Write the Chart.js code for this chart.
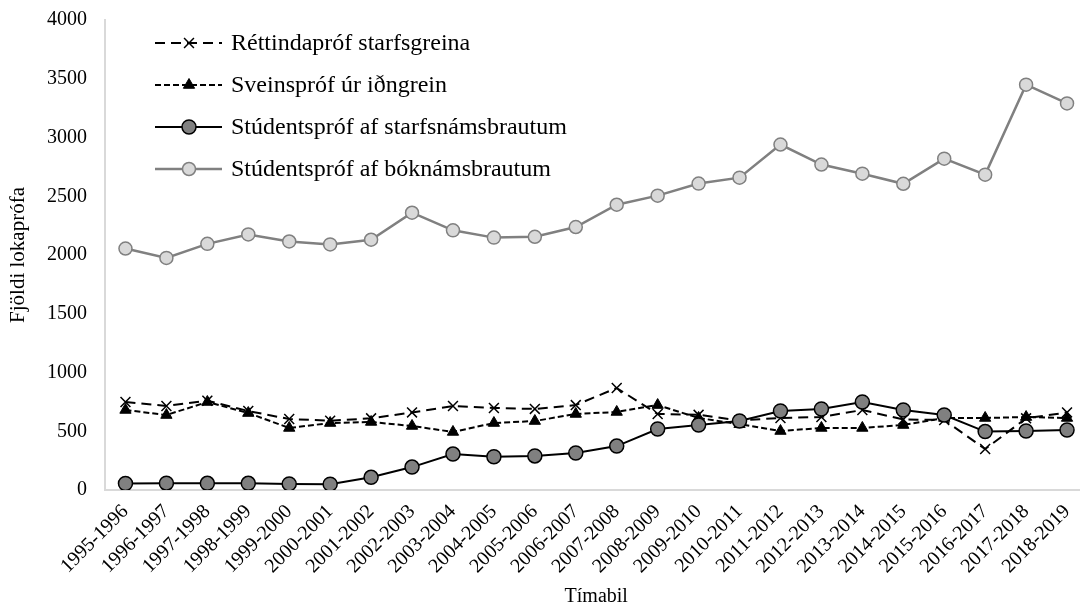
<!DOCTYPE html>
<html>
<head>
<meta charset="utf-8">
<script src="https://cdn.jsdelivr.net/npm/chart.js@4/dist/chart.umd.min.js"></script>
<style>
  html, body { margin: 0; padding: 0; background: #fff; overflow: hidden; }
  #wrap { width: 1096px; height: 609px; position: relative; }
</style>
</head>
<body>
<div id="wrap"><canvas id="chart"></canvas></div>
<script>
// === data ===
const periods = ['1995-1996', '1996-1997', '1997-1998', '1998-1999', '1999-2000', '2000-2001',
  '2001-2002', '2002-2003', '2003-2004', '2004-2005', '2005-2006', '2006-2007', '2007-2008',
  '2008-2009', '2009-2010', '2010-2011', '2011-2012', '2012-2013', '2013-2014', '2014-2015',
  '2015-2016', '2016-2017', '2017-2018', '2018-2019'];

const rettindaprof = [749, 715, 760, 672, 604, 590, 610, 660, 715, 698, 690, 723, 868, 647, 640, 592, 613, 621, 681, 600, 596, 349, 610, 660];
const sveinsprof = [681, 638, 749, 655, 528, 570, 579, 545, 494, 570, 587, 647, 664, 723, 613, 560, 502, 528, 528, 553, 613, 613, 621, 613];
const studStarfs = [55, 58, 57, 57, 52, 50, 108, 195, 306, 283, 290, 315, 374, 519, 553, 587, 672, 689, 749, 681, 638, 497, 502, 511];
const studBokn = [2055, 1975, 2095, 2175, 2115, 2090, 2130, 2360, 2210, 2148, 2155, 2238, 2428, 2505, 2608, 2658, 2940, 2770, 2692, 2606, 2820, 2684, 3450, 3290];

const yTicks = [0, 500, 1000, 1500, 2000, 2500, 3000, 3500, 4000];

const FONT = "'Liberation Serif', 'Times New Roman', serif";

// legend drawn inside the plot, top left
const insideLegend = {
  id: 'insideLegend',
  afterDraw(chart) {
    const c = chart.ctx;
    const x0 = 155, x1 = 222, mx = 189;
    const rows = [43, 85, 127, 169];
    c.save();
    chart.data.datasets.forEach((ds, i) => {
      const y = rows[i];
      c.beginPath();
      c.setLineDash(ds.borderDash || []);
      c.lineWidth = ds.borderWidth;
      c.strokeStyle = ds.borderColor;
      c.moveTo(x0, y);
      c.lineTo(x1, y);
      c.stroke();
      c.setLineDash([]);
      c.fillStyle = ds.pointBackgroundColor;
      c.strokeStyle = ds.pointBorderColor;
      c.lineWidth = ds.pointBorderWidth;
      Chart.helpers.drawPoint(c, {
        pointStyle: ds.pointStyle,
        radius: ds.pointRadius,
        rotation: 0,
        borderWidth: ds.pointBorderWidth
      }, mx, y);
      c.fillStyle = '#000';
      c.font = '24px ' + FONT;
      c.textBaseline = 'middle';
      c.textAlign = 'left';
      c.fillText(ds.label, 231, y + 1);
    });
    c.restore();
  }
};

const ctx = document.getElementById('chart').getContext('2d');

new Chart(ctx, {
  type: 'line',
  data: {
    labels: periods,
    datasets: [
      {
        label: 'Réttindapróf starfsgreina',
        data: rettindaprof,
        borderColor: '#000',
        borderWidth: 2,
        borderDash: [10, 6],
        pointStyle: 'crossRot',
        pointRadius: 7,
        pointBorderWidth: 1.5,
        pointBackgroundColor: '#000',
        pointBorderColor: '#000',
        order: 3
      },
      {
        label: 'Sveinspróf úr iðngrein',
        data: sveinsprof,
        borderColor: '#000',
        borderWidth: 2,
        borderDash: [6, 3],
        pointStyle: 'triangle',
        pointRadius: 6.5,
        pointBorderWidth: 1,
        pointBackgroundColor: '#000',
        pointBorderColor: '#000',
        order: 2
      },
      {
        label: 'Stúdentspróf af starfsnámsbrautum',
        data: studStarfs,
        borderColor: '#000',
        borderWidth: 2,
        pointStyle: 'circle',
        pointRadius: 7,
        pointBorderWidth: 1.5,
        pointBackgroundColor: '#808080',
        pointBorderColor: '#000',
        order: 0
      },
      {
        label: 'Stúdentspróf af bóknámsbrautum',
        data: studBokn,
        borderColor: '#808080',
        borderWidth: 2.5,
        pointStyle: 'circle',
        pointRadius: 6.5,
        pointBorderWidth: 1.5,
        pointBackgroundColor: '#d9d9d9',
        pointBorderColor: '#808080',
        order: 1
      }
    ]
  },
  options: {
    responsive: true,
    maintainAspectRatio: false,
    animation: false,
    layout: { padding: { left: 0, right: 3, top: 20, bottom: 0 } },
    plugins: {
      legend: { display: false },
      tooltip: { enabled: false }
    },
    elements: { line: { tension: 0 } },
    scales: {
      x: {
        offset: true,
        grid: { display: false, drawTicks: false },
        border: { display: true, color: '#d9d9d9', width: 2 },
        ticks: {
          color: '#000',
          font: { family: FONT, size: 20 },
          minRotation: 45,
          maxRotation: 45,
          autoSkip: false,
          padding: 10
        },
        title: {
          display: true,
          text: 'Tímabil',
          color: '#000',
          font: { family: FONT, size: 20 },
          padding: { top: 0, bottom: 0 }
        },
        afterFit(scale) {
          scale.height = 119;
          scale.paddingLeft = 0;
          scale.paddingRight = 0;
        }
      },
      y: {
        min: 0,
        max: 4000,
        afterBuildTicks(scale) { scale.ticks = yTicks.map(v => ({ value: v })); },
        grid: { display: false, drawTicks: false },
        border: { display: true, color: '#d9d9d9', width: 2 },
        ticks: {
          color: '#000',
          font: { family: FONT, size: 20 },
          padding: 18,
          callback: v => String(v)
        },
        title: {
          display: true,
          text: 'Fjöldi lokaprófa',
          color: '#000',
          font: { family: FONT, size: 21 },
          padding: { top: 6, bottom: 0 }
        },
        afterFit(scale) {
          scale.width = 105;
          scale.paddingTop = 0;
          scale.paddingBottom = 0;
        }
      }
    }
  },
  plugins: [insideLegend]
});
</script>
</body>
</html>
